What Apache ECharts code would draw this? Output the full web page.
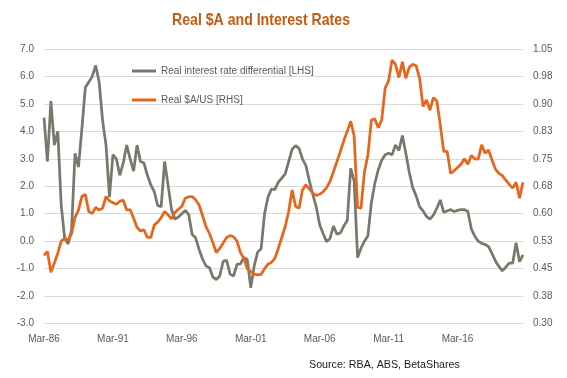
<!DOCTYPE html>
<html>
<head>
<meta charset="utf-8">
<script src="https://cdn.jsdelivr.net/npm/echarts@6/dist/echarts.min.js"></script>
<style>html,body{margin:0;padding:0;background:#fff;}#c{width:567px;height:378px;}</style>
</head>
<body>
<div id="c"></div>
<script>
// Quarterly categories, Mar-86 .. Dec-20
const quarterNames = ['Mar', 'Jun', 'Sep', 'Dec'];
const firstYear = 1986, lastYear = 2020;
const categories = [];
for (let y = firstYear; y <= lastYear; y++) {
  for (const q of quarterNames) categories.push(q + '-' + String(y % 100).padStart(2, '0'));
}

const rateDiffName = 'Real interest rate differential [LHS]';
const audName = 'Real $A/US [RHS]';

// Real interest rate differential (LHS, %)
const rateDiff = [
  4.5, 2.9, 5.1, 3.5, 4.0, 1.3, 0.1, -0.1, 0.4, 3.2,
  2.7, 4.1, 5.6, 5.8, 6.0, 6.4, 5.8, 4.4, 3.5, 1.6,
  3.15, 3.0, 2.4, 2.85, 3.5, 3.0, 2.55, 3.5, 2.9, 2.85,
  2.4, 2.05, 1.8, 1.3, 1.25, 2.9, 2.05, 1.15, 0.8, 0.88,
  1.0, 1.12, 0.97, 0.24, 0.12, -0.3, -0.65, -0.9, -0.97, -1.3,
  -1.4, -1.27, -0.73, -0.7, -1.2, -1.27, -0.85, -0.83, -0.6, -0.67,
  -1.7, -0.9, -0.4, -0.28, 1.0, 1.6, 1.9, 1.88, 2.15, 2.3,
  2.45, 2.9, 3.35, 3.48, 3.38, 3.0, 2.75, 2.2, 1.7, 1.25,
  0.6, 0.28, -0.02, 0.1, 0.55, 0.25, 0.3, 0.55, 0.75, 2.65,
  2.2, -0.6, -0.25, 0.0, 0.2, 1.4, 2.1, 2.6, 2.95, 3.15,
  3.2, 3.15, 3.5, 3.3, 3.85, 3.2, 2.5, 1.95, 1.65, 1.25,
  1.1, 0.9, 0.8, 0.95, 1.2, 1.5, 1.05, 1.1, 1.15, 1.08,
  1.12, 1.15, 1.15, 1.08, 0.45, 0.18, 0.0, -0.08, -0.12, -0.2,
  -0.45, -0.72, -0.92, -1.08, -0.95, -0.8, -0.8, -0.06, -0.75, -0.5
];

// Real $A/US (RHS)
const realAud = [
  0.486, 0.497, 0.44, 0.465, 0.492, 0.525, 0.533, 0.528, 0.545, 0.59,
  0.61, 0.647, 0.653, 0.606, 0.6, 0.617, 0.61, 0.615, 0.647, 0.635,
  0.63, 0.626, 0.634, 0.637, 0.61, 0.611, 0.588, 0.562, 0.553, 0.556,
  0.535, 0.535, 0.569, 0.577, 0.589, 0.606, 0.597, 0.586, 0.603, 0.612,
  0.62, 0.642, 0.646, 0.647, 0.638, 0.624, 0.595, 0.565, 0.546, 0.521,
  0.494, 0.505, 0.52, 0.535, 0.54, 0.537, 0.525, 0.494, 0.478, 0.45,
  0.442, 0.435, 0.433, 0.434, 0.45, 0.462, 0.467, 0.478, 0.505, 0.535,
  0.565, 0.606, 0.665, 0.62, 0.615, 0.665, 0.679, 0.668, 0.656, 0.65,
  0.653, 0.66, 0.671, 0.688, 0.715, 0.742, 0.77, 0.80, 0.825, 0.853,
  0.813, 0.617, 0.615, 0.715, 0.76, 0.856, 0.859, 0.835, 0.856, 0.943,
  0.963, 1.02, 1.008, 0.972, 1.015, 0.97, 1.0, 1.008, 1.004, 0.97,
  0.893, 0.911, 0.883, 0.917, 0.908, 0.842, 0.77, 0.77, 0.71, 0.717,
  0.726, 0.735, 0.75, 0.735, 0.759, 0.75, 0.749, 0.788, 0.765, 0.774,
  0.747, 0.722, 0.71, 0.704, 0.692, 0.68, 0.67, 0.686, 0.642, 0.686
];

// Axis tick settings
const leftTicks = { min: -3, max: 7, step: 1 };
const rightTicks = { min: 0.30, max: 1.05, step: 0.075 };
const xLabelEvery = 20;

const grayColor = '#78786B';
const orangeColor = '#E5661C';
const labelColor = '#595959';
const gridColor = '#D9D9D9';
const font = "'Liberation Sans', Arial, sans-serif";

const chart = echarts.init(document.getElementById('c'), null, { renderer: 'canvas' });
chart.setOption({
  animation: false,
  backgroundColor: '#fff',
  title: [
    {
      text: 'Source: RBA, ABS, BetaShares',
      left: 304, top: 355,
      textStyle: { fontFamily: font, fontSize: 10.7, fontWeight: 'normal', color: '#1a1a1a' }
    }
  ],
  graphic: [
    {
      type: 'text',
      x: 172, y: 12,
      scaleX: 0.83, scaleY: 1,
      style: {
        text: 'Real $A and Interest Rates',
        fill: '#C55A11',
        font: "bold 17px 'Liberation Sans', Arial, sans-serif",
        textAlign: 'left', textVerticalAlign: 'top'
      }
    }
  ],
  legend: [
    {
      data: [rateDiffName], left: 132, top: 66, orient: 'vertical', padding: 0,
      icon: 'rect', itemWidth: 24, itemHeight: 3,
      textStyle: { fontFamily: font, fontSize: 10, color: labelColor }
    },
    {
      data: [audName], left: 132, top: 95, orient: 'vertical', padding: 0,
      icon: 'rect', itemWidth: 24, itemHeight: 3,
      textStyle: { fontFamily: font, fontSize: 10, color: labelColor }
    }
  ],
  grid: { left: 44, right: 44, top: 49, bottom: 54.5, containLabel: false },
  xAxis: {
    type: 'category',
    data: categories,
    boundaryGap: false,
    axisLine: { show: true, lineStyle: { color: gridColor, width: 1 } },
    axisTick: { show: false },
    axisLabel: {
      interval: (idx) => idx % xLabelEvery === 0,
      color: labelColor, fontFamily: font, fontSize: 10, margin: 11
    },
    splitLine: { show: false }
  },
  yAxis: [
    {
      type: 'value', min: leftTicks.min, max: leftTicks.max, interval: leftTicks.step,
      axisLine: { show: false }, axisTick: { show: false },
      axisLabel: { formatter: (v) => v.toFixed(1), color: labelColor, fontFamily: font, fontSize: 10, margin: 10 },
      splitLine: { show: true, lineStyle: { color: gridColor, width: 1 } }
    },
    {
      type: 'value', min: rightTicks.min, max: rightTicks.max, interval: rightTicks.step,
      axisLine: { show: false }, axisTick: { show: false },
      axisLabel: {
        formatter: (v) => (Math.round(v * 100 + 1e-4) / 100).toFixed(2),
        color: labelColor, fontFamily: font, fontSize: 10, margin: 10
      },
      splitLine: { show: false }
    }
  ],
  series: [
    {
      name: rateDiffName, type: 'line', yAxisIndex: 0, data: rateDiff,
      showSymbol: false, symbol: 'none',
      lineStyle: { color: grayColor, width: 2.75 }, itemStyle: { color: grayColor }
    },
    {
      name: audName, type: 'line', yAxisIndex: 1, data: realAud,
      showSymbol: false, symbol: 'none',
      lineStyle: { color: orangeColor, width: 2.75 }, itemStyle: { color: orangeColor }
    }
  ]
});
</script>
</body>
</html>
